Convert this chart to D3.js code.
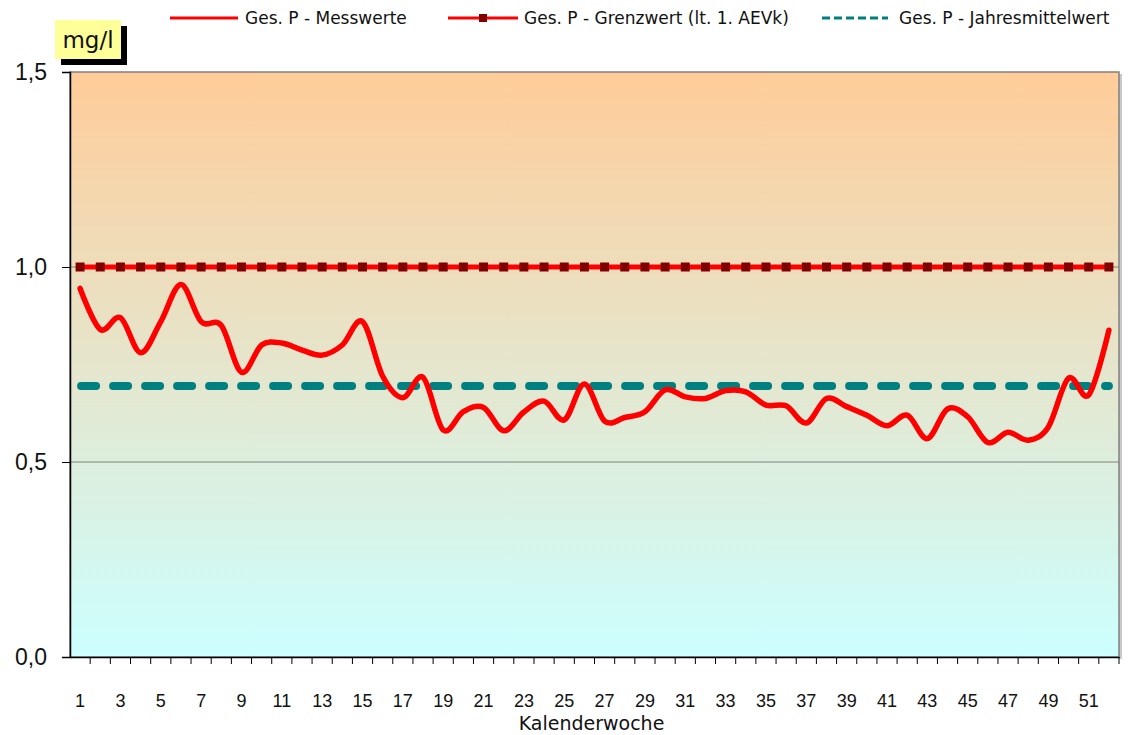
<!DOCTYPE html>
<html>
<head>
<meta charset="utf-8">
<script src="https://cdn.jsdelivr.net/npm/d3@7"></script>
<style>
  body { margin: 0; background: #fff; }
  svg { display: block; font-family: "DejaVu Sans", sans-serif; }
</style>
</head>
<body>
<div id="chart"></div>
<script>
// Kalenderwochen (categories)
const weeks = [1, 2, 3, 4, 5, 6, 7, 8, 9, 10, 11, 12, 13, 14, 15, 16, 17, 18, 19, 20,
    21, 22, 23, 24, 25, 26, 27, 28, 29, 30, 31, 32, 33, 34, 35, 36, 37, 38, 39, 40,
    41, 42, 43, 44, 45, 46, 47, 48, 49, 50, 51, 52];

const messwerte = [0.945, 0.84, 0.87, 0.78, 0.86, 0.955, 0.86, 0.85, 0.73, 0.80,
    0.805, 0.787, 0.774, 0.80, 0.86, 0.72, 0.665, 0.717, 0.582, 0.629,
    0.64, 0.58, 0.628, 0.656, 0.608, 0.70, 0.605, 0.614, 0.629, 0.685,
    0.667, 0.663, 0.683, 0.68, 0.646, 0.644, 0.60, 0.663, 0.642, 0.62,
    0.593, 0.62, 0.56, 0.636, 0.616, 0.55, 0.576, 0.556, 0.59, 0.715,
    0.672, 0.838];

const grenzwert = 1.0;      // Ges. P - Grenzwert (lt. 1. AEVk)
const jahresmittel = 0.695; // Ges. P - Jahresmittelwert

const yTicks = [0, 0.5, 1.0, 1.5];
const xLabelWeeks = weeks.filter(w => w % 2 === 1);

const legendLabels = ["Ges. P - Messwerte", "Ges. P - Grenzwert (lt. 1. AEVk)", "Ges. P - Jahresmittelwert"];

const width = 1128;
const height = 735;
const marginTop = 72;
const marginRight = 9;
const marginBottom = 78;
const marginLeft = 70;

const x = d3.scaleBand()
    .domain(weeks)
    .range([marginLeft, width - marginRight]);

const y = d3.scaleLinear()
    .domain([0, 1.5])
    .range([height - marginBottom, marginTop]);

const cx = w => x(w) + x.bandwidth() / 2;

const svg = d3.create("svg")
    .attr("width", width)
    .attr("height", height)
    .attr("viewBox", [0, 0, width, height]);

// background gradient of the plot area
const grad = svg.append("defs").append("linearGradient")
    .attr("id", "bg")
    .attr("x1", 0).attr("y1", 0).attr("x2", 0).attr("y2", 1);
grad.append("stop").attr("offset", "0%").attr("stop-color", "#ffcc99");
grad.append("stop").attr("offset", "100%").attr("stop-color", "#ccffff");

const plotL = marginLeft, plotR = width - marginRight;
const plotT = marginTop, plotB = height - marginBottom;

// shadow on the right of the plot area
svg.append("rect")
    .attr("x", plotR).attr("y", plotT + 2)
    .attr("width", 3).attr("height", plotB - plotT)
    .attr("fill", "#c8c8c8");

svg.append("rect")
    .attr("x", plotL).attr("y", plotT)
    .attr("width", plotR - plotL).attr("height", plotB - plotT)
    .attr("fill", "url(#bg)")
    .attr("stroke", "#808080")
    .attr("stroke-width", 1.5);

// horizontal gridlines
svg.append("g")
    .selectAll("line")
    .data(yTicks.filter(v => v > 0 && v < 1.5))
    .join("line")
      .attr("x1", plotL).attr("x2", plotR)
      .attr("y1", d => y(d)).attr("y2", d => y(d))
      .attr("stroke", "#808080")
      .attr("stroke-width", 1);

// y axis
const yAxis = svg.append("g")
    .attr("transform", `translate(${plotL},0)`)
    .call(d3.axisLeft(y)
        .tickValues(yTicks)
        .tickSize(8)
        .tickPadding(15)
        .tickFormat(d => d3.format(".1f")(d).replace(".", ",")));
yAxis.select(".domain").attr("stroke", "#000").attr("stroke-width", 1.5);
yAxis.selectAll(".tick line").attr("stroke", "#000");
yAxis.selectAll("text").attr("font-size", 23).attr("fill", "#111");

// x axis: labels on odd weeks, ticks at the category boundaries
const xAxis = svg.append("g")
    .attr("transform", `translate(0,${plotB})`)
    .call(d3.axisBottom(x)
        .tickValues(xLabelWeeks)
        .tickSize(0)
        .tickPadding(37));
xAxis.select(".domain").attr("stroke", "#000").attr("stroke-width", 1.5);
xAxis.selectAll("text").attr("font-size", 18).attr("fill", "#111");

svg.append("g")
    .selectAll("line")
    .data(weeks.slice(1))
    .join("line")
      .attr("x1", d => x(d)).attr("x2", d => x(d))
      .attr("y1", plotB).attr("y2", plotB + 7)
      .attr("stroke", "#000");
svg.append("line")
    .attr("x1", plotR).attr("x2", plotR)
    .attr("y1", plotB).attr("y2", plotB + 7)
    .attr("stroke", "#000");

svg.append("text")
    .attr("x", (plotL + plotR) / 2 - 3)
    .attr("y", 730)
    .attr("text-anchor", "middle")
    .attr("font-size", 19)
    .attr("fill", "#111")
    .text("Kalenderwoche");

// Grenzwert line with square markers
svg.append("line")
    .attr("x1", cx(weeks[0])).attr("x2", cx(weeks[weeks.length - 1]))
    .attr("y1", y(grenzwert)).attr("y2", y(grenzwert))
    .attr("stroke", "#ff0000")
    .attr("stroke-width", 5);
svg.append("g")
    .selectAll("rect")
    .data(weeks)
    .join("rect")
      .attr("x", d => cx(d) - 4.5)
      .attr("y", y(grenzwert) - 4.5)
      .attr("width", 9).attr("height", 9)
      .attr("fill", "#800000");

// Jahresmittelwert dashed line
svg.append("line")
    .attr("x1", cx(weeks[0]) + 1).attr("x2", cx(weeks[weeks.length - 1]))
    .attr("y1", y(jahresmittel)).attr("y2", y(jahresmittel))
    .attr("stroke", "#008080")
    .attr("stroke-width", 8)
    .attr("stroke-linecap", "round")
    .attr("stroke-dasharray", "15,17");

// Messwerte smoothed line
const line = d3.line()
    .x((d, i) => cx(weeks[i]))
    .y(d => y(d))
    .curve(d3.curveCardinal.tension(0));

svg.append("path")
    .datum(messwerte)
    .attr("fill", "none")
    .attr("stroke", "#ff0000")
    .attr("stroke-width", 5.5)
    .attr("stroke-linejoin", "round")
    .attr("stroke-linecap", "round")
    .attr("d", line);

// unit box "mg/l"
svg.append("rect")
    .attr("x", 61).attr("y", 26).attr("width", 66).attr("height", 39)
    .attr("fill", "#000");
svg.append("rect")
    .attr("x", 55).attr("y", 20).attr("width", 66).attr("height", 39)
    .attr("fill", "#ffff99");
svg.append("text")
    .attr("x", 88).attr("y", 48)
    .attr("text-anchor", "middle")
    .attr("font-size", 23)
    .attr("fill", "#111")
    .text("mg/l");

// legend
const legend = svg.append("g").attr("font-size", 17).attr("fill", "#111");
const legY = 18;

legend.append("line")
    .attr("x1", 170).attr("x2", 238).attr("y1", legY).attr("y2", legY)
    .attr("stroke", "#ff0000").attr("stroke-width", 3);
legend.append("text").attr("x", 245).attr("y", legY).attr("dy", "0.35em").text(legendLabels[0]);

legend.append("line")
    .attr("x1", 448).attr("x2", 518).attr("y1", legY).attr("y2", legY)
    .attr("stroke", "#ff0000").attr("stroke-width", 3);
legend.append("rect")
    .attr("x", 479).attr("y", legY - 4).attr("width", 8).attr("height", 8)
    .attr("fill", "#800000");
legend.append("text").attr("x", 524).attr("y", legY).attr("dy", "0.35em").text(legendLabels[1]);

legend.append("line")
    .attr("x1", 822).attr("x2", 888).attr("y1", legY).attr("y2", legY)
    .attr("stroke", "#008080").attr("stroke-width", 3)
    .attr("stroke-dasharray", "8,4");
legend.append("text").attr("x", 899).attr("y", legY).attr("dy", "0.35em").text(legendLabels[2]);

document.getElementById("chart").appendChild(svg.node());
</script>
</body>
</html>
